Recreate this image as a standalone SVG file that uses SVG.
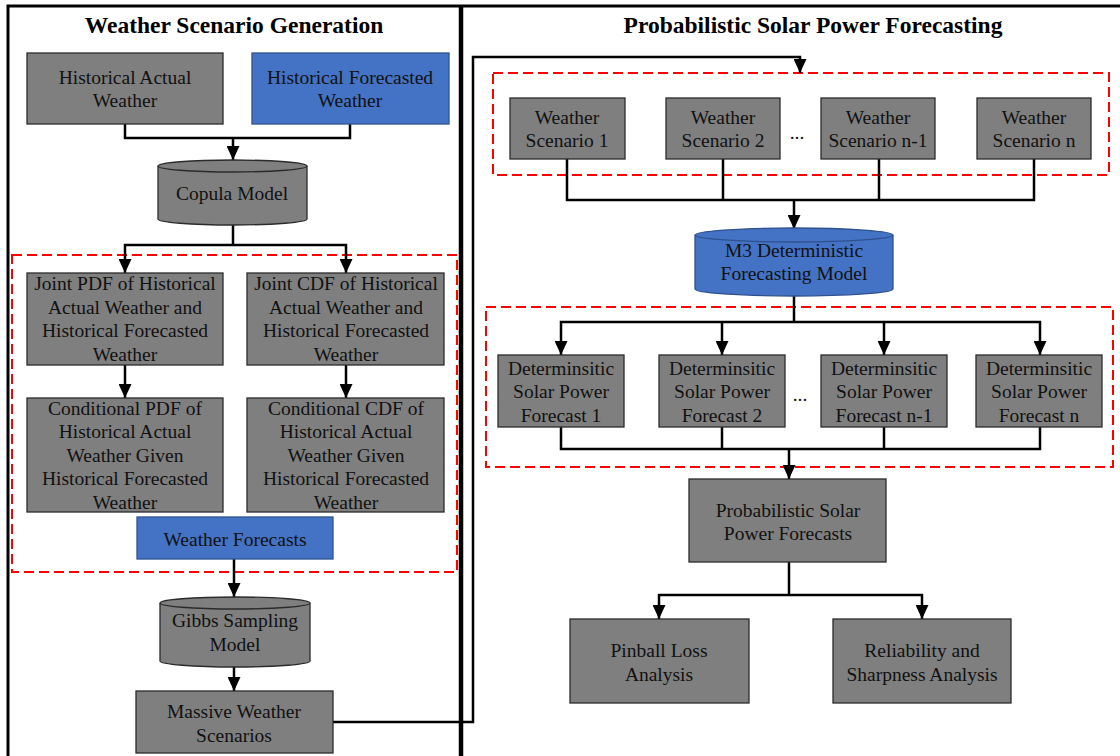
<svg xmlns="http://www.w3.org/2000/svg" width="1120" height="756" viewBox="0 0 1120 756">
<defs>
<marker id="ah" markerUnits="userSpaceOnUse" markerWidth="15" markerHeight="13" refX="14" refY="6.5" orient="auto" viewBox="0 0 15 13">
<path d="M0,0 L14,6.5 L0,13 z" fill="#000"/>
</marker>
<style>
.box{fill:#7F7F7F;stroke:#2b2b2b;stroke-width:1.3}
.blue{fill:#4472C4;stroke:#2F528F;stroke-width:1.3}
.t{font-family:"Liberation Serif","Times New Roman",serif;font-size:19.5px;fill:#111;text-anchor:middle}
.title{font-family:"Liberation Serif","Times New Roman",serif;font-size:23.5px;font-weight:bold;fill:#000;text-anchor:middle}
.c{fill:none;stroke:#000;stroke-width:2.5}
.a{fill:none;stroke:#000;stroke-width:2.5;marker-end:url(#ah)}
.dash{fill:none;stroke:#FF0000;stroke-width:2;stroke-dasharray:10 5}
.frame{fill:none;stroke:#000}
</style>
</defs>
<rect x="0" y="0" width="1120" height="756" fill="#fff"/>
<g id="frames">
<path class="frame" d="M8,756 V6 H1120" stroke-width="3"/>
<line class="frame" x1="461" y1="5" x2="461" y2="756" stroke-width="4.5"/>
<path class="dash" d="M12,255 H457 V572 H12 Z"/>
<path class="dash" d="M493,73 H1109 V175 H493 Z"/>
<path class="dash" d="M486,307 H1113 V467 H486 Z"/>
</g>
<g id="titles">
<text class="title" x="234" y="33">Weather Scenario Generation</text>
<text class="title" x="813" y="33">Probabilistic Solar Power Forecasting</text>
</g>
<g id="connectors">
<path class="c" d="M125,124 V138 H350 V124"/>
<path class="a" d="M233,138 V160"/>
<path class="c" d="M233,225 V245"/>
<path class="a" d="M233,245 H125 V273"/>
<path class="a" d="M233,245 H346 V273"/>
<path class="a" d="M125,365 V398"/>
<path class="a" d="M346,365 V398"/>
<path class="a" d="M234,559 V597"/>
<path class="a" d="M234,667 V691"/>
<path class="a" d="M333,722 H473 V57 H800 V73"/>
<path class="c" d="M567,159 V200 H1034 V159"/>
<path class="c" d="M723,159 V200"/>
<path class="c" d="M879,159 V200"/>
<path class="a" d="M794,200 V229"/>
<path class="c" d="M794,295 V322"/>
<path class="a" d="M794,322 H561 V355"/>
<path class="a" d="M794,322 H1040 V355"/>
<path class="a" d="M722,322 V355"/>
<path class="a" d="M884,322 V355"/>
<path class="c" d="M561,427 V449 H1040 V427"/>
<path class="c" d="M722,427 V449"/>
<path class="c" d="M884,427 V449"/>
<path class="a" d="M789,449 V479"/>
<path class="c" d="M789,562 V595"/>
<path class="a" d="M789,595 H659 V619"/>
<path class="a" d="M789,595 H922 V619"/>
</g>
<g id="hist-actual">
<rect class="box" x="27" y="53" width="196" height="71"/>
<text class="t" x="125" y="84">Historical Actual</text>
<text class="t" x="125" y="107">Weather</text>
</g>
<g id="hist-forecast">
<rect class="blue" x="252" y="53" width="197" height="71"/>
<text class="t" x="350" y="84">Historical Forecasted</text>
<text class="t" x="350" y="107">Weather</text>
</g>
<g id="copula">
<path class="box" d="M158,166 V219 A74.5,6 0 0 0 307,219 V166 A74.5,6 0 0 0 158,166 Z"/>
<path class="box" d="M158,166 A74.5,6 0 0 0 307,166" fill="none"/>
<text class="t" x="232" y="200">Copula Model</text>
</g>
<g id="joint-pdf">
<rect class="box" x="27" y="273" width="196" height="92"/>
<text class="t" x="125" y="290">Joint PDF of Historical</text>
<text class="t" x="125" y="314">Actual Weather and</text>
<text class="t" x="125" y="337">Historical Forecasted</text>
<text class="t" x="125" y="361">Weather</text>
</g>
<g id="joint-cdf">
<rect class="box" x="247" y="273" width="197" height="92"/>
<text class="t" x="346" y="290">Joint CDF of Historical</text>
<text class="t" x="346" y="314">Actual Weather and</text>
<text class="t" x="346" y="337">Historical Forecasted</text>
<text class="t" x="346" y="361">Weather</text>
</g>
<g id="cond-pdf">
<rect class="box" x="27" y="398" width="196" height="114"/>
<text class="t" x="125" y="415">Conditional PDF of</text>
<text class="t" x="125" y="438">Historical Actual</text>
<text class="t" x="125" y="462">Weather Given</text>
<text class="t" x="125" y="485">Historical Forecasted</text>
<text class="t" x="125" y="509">Weather</text>
</g>
<g id="cond-cdf">
<rect class="box" x="247" y="398" width="197" height="114"/>
<text class="t" x="346" y="415">Conditional CDF of</text>
<text class="t" x="346" y="438">Historical Actual</text>
<text class="t" x="346" y="462">Weather Given</text>
<text class="t" x="346" y="485">Historical Forecasted</text>
<text class="t" x="346" y="509">Weather</text>
</g>
<g id="weather-forecasts">
<rect class="blue" x="137" y="517" width="196" height="42"/>
<text class="t" x="235" y="546">Weather Forecasts</text>
</g>
<g id="gibbs">
<path class="box" d="M160,603 V661 A75,6 0 0 0 310,661 V603 A75,6 0 0 0 160,603 Z"/>
<path class="box" d="M160,603 A75,6 0 0 0 310,603" fill="none"/>
<text class="t" x="235" y="627">Gibbs Sampling</text>
<text class="t" x="235" y="651">Model</text>
</g>
<g id="massive">
<rect class="box" x="136" y="691" width="197" height="62"/>
<text class="t" x="234" y="718">Massive Weather</text>
<text class="t" x="234" y="742">Scenarios</text>
</g>
<g id="ws1">
<rect class="box" x="510" y="98" width="115" height="61"/>
<text class="t" x="567" y="124">Weather</text>
<text class="t" x="567" y="147">Scenario 1</text>
</g>
<g id="ws2">
<rect class="box" x="666" y="98" width="114" height="61"/>
<text class="t" x="723" y="124">Weather</text>
<text class="t" x="723" y="147">Scenario 2</text>
</g>
<g id="ws-dots"><text class="t" x="797" y="139">...</text></g>
<g id="wsn1">
<rect class="box" x="821" y="98" width="114" height="61"/>
<text class="t" x="878" y="124">Weather</text>
<text class="t" x="878" y="147">Scenario n-1</text>
</g>
<g id="wsn">
<rect class="box" x="977" y="98" width="114" height="61"/>
<text class="t" x="1034" y="124">Weather</text>
<text class="t" x="1034" y="147">Scenario n</text>
</g>
<g id="m3">
<path class="blue" d="M695,235 V289 A99,7 0 0 0 893,289 V235 A99,7 0 0 0 695,235 Z"/>
<path class="blue" d="M695,235 A99,7 0 0 0 893,235" fill="none"/>
<text class="t" x="794" y="257">M3 Deterministic</text>
<text class="t" x="794" y="280">Forecasting Model</text>
</g>
<g id="df1">
<rect class="box" x="498" y="355" width="126" height="72"/>
<text class="t" x="561" y="375">Determinsitic</text>
<text class="t" x="561" y="398">Solar Power</text>
<text class="t" x="561" y="422">Forecast 1</text>
</g>
<g id="df2">
<rect class="box" x="659" y="355" width="126" height="72"/>
<text class="t" x="722" y="375">Determinsitic</text>
<text class="t" x="722" y="398">Solar Power</text>
<text class="t" x="722" y="422">Forecast 2</text>
</g>
<g id="df-dots"><text class="t" x="800" y="401">...</text></g>
<g id="dfn1">
<rect class="box" x="821" y="355" width="126" height="72"/>
<text class="t" x="884" y="375">Determinsitic</text>
<text class="t" x="884" y="398">Solar Power</text>
<text class="t" x="884" y="422">Forecast n-1</text>
</g>
<g id="dfn">
<rect class="box" x="976" y="355" width="126" height="72"/>
<text class="t" x="1039" y="375">Determinsitic</text>
<text class="t" x="1039" y="398">Solar Power</text>
<text class="t" x="1039" y="422">Forecast n</text>
</g>
<g id="prob">
<rect class="box" x="689" y="479" width="197" height="83"/>
<text class="t" x="788" y="517">Probabilistic Solar</text>
<text class="t" x="788" y="540">Power Forecasts</text>
</g>
<g id="pinball">
<rect class="box" x="570" y="619" width="179" height="84"/>
<text class="t" x="659" y="657">Pinball Loss</text>
<text class="t" x="659" y="681">Analysis</text>
</g>
<g id="reliability">
<rect class="box" x="833" y="619" width="178" height="84"/>
<text class="t" x="922" y="657">Reliability and</text>
<text class="t" x="922" y="681">Sharpness Analysis</text>
</g>
</svg>
